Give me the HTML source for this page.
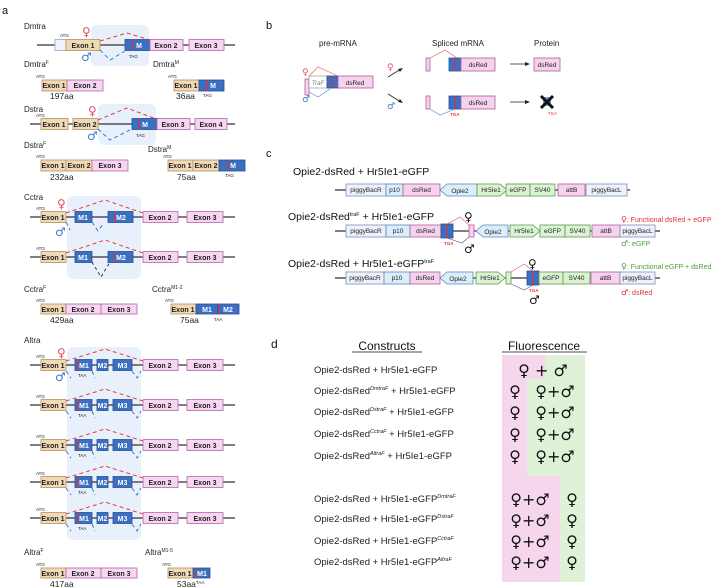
<!DOCTYPE html>
<html><head><meta charset="utf-8"><style>
html,body{margin:0;padding:0;background:#fff}
svg{display:block}
text{font-family:"Liberation Sans","DejaVu Sans",sans-serif}
.l{stroke:#333;stroke-width:1.2}
.e1{fill:#f0d9b5;stroke:#b48f63;stroke-width:.8}
.ep{fill:#f6d6f0;stroke:#b06aac;stroke-width:.8}
.ew{fill:#eef2fa;stroke:#9aa8c8;stroke-width:.8}
.m{fill:#3b6fc2;stroke:#274f94;stroke-width:.8}
.rl{stroke:#e0303a;stroke-width:1.2}
.hl{fill:#e8f1fb}
.t{font-size:7px;font-weight:bold;fill:#222;text-anchor:middle}
.tw{font-size:7px;font-weight:bold;fill:#fff;text-anchor:middle}
.s{font-size:4.5px;fill:#222}
.lab{font-size:8px;fill:#222}
.aa{font-size:8.5px;fill:#222}
.rd{stroke:#e53a3a;stroke-width:1;stroke-dasharray:4 3;fill:none}
.bd{stroke:#3a78c8;stroke-width:1;stroke-dasharray:4 3;fill:none}
.kd{stroke:#334;stroke-width:1;stroke-dasharray:3 3;fill:none}
.fe{font-size:12px;fill:#e05060}
.ma{font-size:12px;fill:#3a78c8}
.cb{fill:#eef2fa;stroke:#7a8cc0;stroke-width:.8}
.cp{fill:#dceefa;stroke:#5a86c0;stroke-width:.8}
.ck{fill:#f6d2ec;stroke:#b0609e;stroke-width:.8}
.cg{fill:#dcf2d4;stroke:#5a9a4a;stroke-width:.8}
.ct{font-size:6.5px;fill:#222;text-anchor:middle}
.ttl{font-size:10.5px;fill:#111}
.rowt{font-size:9.5px;fill:#222}
.sym{font-size:16px;fill:#111;text-anchor:middle}
.fe,.ma,.sym,.g{font-family:"DejaVu Sans",sans-serif}
</style></head><body>
<svg width="720" height="588" viewBox="0 0 720 588" xmlns="http://www.w3.org/2000/svg">
<!-- ===== Panel a ===== -->
<text x="2" y="14" font-size="11" fill="#111">a</text>

<!-- Dmtra -->
<text x="24" y="29" class="lab">Dmtra</text>
<rect x="91" y="25" width="58" height="41" rx="6" class="hl"/>
<line x1="37" y1="45" x2="235" y2="45" class="l"/>
<rect x="55" y="39.5" width="11" height="11" class="ew"/>
<rect x="66" y="39.5" width="34" height="11" class="e1"/><text x="83" y="48" class="t">Exon 1</text>
<text x="60" y="37" class="s">ATG</text>
<rect x="125" y="39.5" width="25" height="11" class="m"/><line x1="133" y1="39.5" x2="133" y2="50.5" class="rl"/><text x="139" y="48" class="tw">M</text>
<rect x="150" y="39.5" width="33" height="11" class="ep"/><text x="166" y="48" class="t">Exon 2</text>
<rect x="189" y="39.5" width="35" height="11" class="ep"/><text x="206" y="48" class="t">Exon 3</text>
<text x="129" y="58" class="s">TAG</text>
<polyline points="100,41 127,33 150,40" class="rd"/>
<polyline points="100,50 110,60 125,51" class="bd"/>
<text x="82" y="36" class="fe">♀</text><text x="81" y="61" class="ma">♂</text>

<text x="24" y="67" class="lab">Dmtra<tspan font-size="5" dy="-3">F</tspan></text>
<text x="36" y="78" class="s">ATG</text>
<rect x="42" y="80" width="25" height="11" class="e1"/><text x="54" y="88" class="t">Exon 1</text>
<rect x="67" y="80" width="36" height="11" class="ep"/><text x="85" y="88" class="t">Exon 2</text>
<text x="50" y="99" class="aa">197aa</text>
<text x="153" y="67" class="lab">Dmtra<tspan font-size="5" dy="-3">M</tspan></text>
<text x="168" y="78" class="s">ATG</text>
<rect x="174" y="80" width="25" height="11" class="e1"/><text x="186" y="88" class="t">Exon 1</text>
<rect x="199" y="80" width="25" height="11" class="m"/><line x1="207" y1="80" x2="207" y2="91" class="rl"/><text x="213" y="88" class="tw">M</text>
<text x="176" y="99" class="aa">36aa</text><text x="203" y="97" class="s">TAG</text>

<!-- Dstra -->
<text x="24" y="112" class="lab">Dstra</text>
<rect x="98" y="104" width="58" height="41" rx="6" class="hl"/>
<line x1="30" y1="124" x2="235" y2="124" class="l"/>
<text x="36" y="117" class="s">ATG</text>
<rect x="41" y="118.5" width="27" height="11" class="e1"/><text x="54" y="127" class="t">Exon 1</text>
<rect x="73" y="118.5" width="25" height="11" class="e1"/><text x="85" y="127" class="t">Exon 2</text>
<rect x="132" y="118.5" width="25" height="11" class="m"/><line x1="139" y1="118.5" x2="139" y2="129.5" class="rl"/><text x="145" y="127" class="tw">M</text>
<rect x="157" y="118.5" width="33" height="11" class="ep"/><text x="173" y="127" class="t">Exon 3</text>
<rect x="195" y="118.5" width="32" height="11" class="ep"/><text x="211" y="127" class="t">Exon 4</text>
<text x="136" y="137" class="s">TAG</text>
<polyline points="98,120 127,108 156,119" class="rd"/>
<polyline points="98,129 110,140 130,130" class="bd"/>
<text x="88" y="115" class="fe">♀</text><text x="87" y="140" class="ma">♂</text>

<text x="24" y="148" class="lab">Dstra<tspan font-size="5" dy="-3">F</tspan></text>
<text x="36" y="158" class="s">ATG</text>
<rect x="41" y="160" width="25" height="11" class="e1"/><text x="53" y="168" class="t">Exon 1</text>
<rect x="66" y="160" width="26" height="11" class="e1"/><text x="79" y="168" class="t">Exon 2</text>
<rect x="92" y="160" width="36" height="11" class="ep"/><text x="110" y="168" class="t">Exon 3</text>
<text x="50" y="180" class="aa">232aa</text>
<text x="148" y="152" class="lab">Dstra<tspan font-size="5" dy="-3">M</tspan></text>
<text x="163" y="158" class="s">ATG</text>
<rect x="168" y="160" width="25" height="11" class="e1"/><text x="180" y="168" class="t">Exon 1</text>
<rect x="193" y="160" width="26" height="11" class="e1"/><text x="206" y="168" class="t">Exon 2</text>
<rect x="219" y="160" width="26" height="11" class="m"/><line x1="228" y1="160" x2="228" y2="171" class="rl"/><text x="233" y="168" class="tw">M</text>
<text x="177" y="180" class="aa">75aa</text><text x="225" y="177" class="s">TAG</text>

<!-- Cctra -->
<text x="24" y="200" class="lab">Cctra</text>
<rect x="67" y="196" width="74" height="83" rx="6" class="hl"/>
<line x1="30" y1="217" x2="235" y2="217" class="l"/>
<text x="36" y="210" class="s">ATG</text>
<rect x="41" y="211.5" width="25" height="11" class="e1"/><text x="53" y="220" class="t">Exon 1</text>
<rect x="75" y="211.5" width="17" height="11" class="m"/><text x="83" y="220" class="tw">M1</text>
<rect x="108" y="211.5" width="25" height="11" class="m"/><line x1="115" y1="211.5" x2="115" y2="222.5" class="rl"/><text x="121" y="220" class="tw">M2</text>
<rect x="143" y="211.5" width="35" height="11" class="ep"/><text x="160" y="220" class="t">Exon 2</text>
<rect x="187" y="211.5" width="36" height="11" class="ep"/><text x="205" y="220" class="t">Exon 3</text>
<polyline points="66,213 105,200 143,213" class="rd"/>
<polyline points="66,222 70,230" class="bd"/><polyline points="92,222 98,231 104,223" class="bd"/>
<text x="57" y="208" class="fe">♀</text><text x="55" y="236" class="ma">♂</text>

<line x1="30" y1="257" x2="235" y2="257" class="l"/>
<text x="36" y="250" class="s">ATG</text>
<rect x="41" y="251.5" width="25" height="11" class="e1"/><text x="53" y="260" class="t">Exon 1</text>
<rect x="75" y="251.5" width="17" height="11" class="m"/><text x="83" y="260" class="tw">M1</text>
<rect x="108" y="251.5" width="25" height="11" class="m"/><line x1="115" y1="251.5" x2="115" y2="262.5" class="rl"/><text x="121" y="260" class="tw">M2</text>
<rect x="143" y="251.5" width="35" height="11" class="ep"/><text x="160" y="260" class="t">Exon 2</text>
<rect x="187" y="251.5" width="36" height="11" class="ep"/><text x="205" y="260" class="t">Exon 3</text>
<polyline points="66,253 105,240 143,253" class="rd"/>
<polyline points="92,262 101,277 110,262" class="kd"/>

<text x="24" y="292" class="lab">Cctra<tspan font-size="5" dy="-3">F</tspan></text>
<text x="36" y="302" class="s">ATG</text>
<rect x="41" y="304" width="25" height="10" class="e1"/><text x="53" y="312" class="t">Exon 1</text>
<rect x="66" y="304" width="35" height="10" class="ep"/><text x="83" y="312" class="t">Exon 2</text>
<rect x="101" y="304" width="36" height="10" class="ep"/><text x="119" y="312" class="t">Exon 3</text>
<text x="50" y="323" class="aa">429aa</text>
<text x="152" y="292" class="lab">Cctra<tspan font-size="5" dy="-3">M1-2</tspan></text>
<text x="165" y="302" class="s">ATG</text>
<rect x="171" y="304" width="25" height="10" class="e1"/><text x="183" y="312" class="t">Exon 1</text>
<rect x="196" y="304" width="22" height="10" class="m"/><text x="207" y="312" class="tw">M1</text>
<rect x="218" y="304" width="21" height="10" class="m"/><line x1="219" y1="304" x2="219" y2="314" class="rl"/><text x="228" y="312" class="tw">M2</text>
<text x="180" y="323" class="aa">75aa</text><text x="214" y="321" class="s">TAA</text>

<!-- Altra -->
<text x="24" y="343" class="lab">Altra</text>
<rect x="67" y="347" width="74" height="193" rx="6" class="hl"/>
<g id="ar">
<line x1="30" y1="365" x2="235" y2="365" class="l"/>
<text x="36" y="358" class="s">ATG</text>
<rect x="41" y="359.5" width="25" height="11" class="e1"/><text x="53" y="368" class="t">Exon 1</text>
<rect x="75" y="359.5" width="17" height="11" class="m"/><line x1="78" y1="359.5" x2="78" y2="370.5" class="rl"/><text x="84" y="368" class="tw">M1</text>
<rect x="97" y="359.5" width="11" height="11" class="m"/><text x="102.5" y="368" class="tw">M2</text>
<rect x="113" y="359.5" width="19" height="11" class="m"/><text x="122.5" y="368" class="tw">M3</text>
<rect x="143" y="359.5" width="35" height="11" class="ep"/><text x="160" y="368" class="t">Exon 2</text>
<rect x="187" y="359.5" width="36" height="11" class="ep"/><text x="205" y="368" class="t">Exon 3</text>
<text x="78" y="377" class="s">TAA</text>
<polyline points="66,361 105,349 143,361" class="rd"/>
<polyline points="66,371 71,378" class="bd"/><polyline points="92,371 95,378" class="bd"/><polyline points="132,371 137,378 141,371" class="bd"/>
</g>
<text x="57" y="357" class="fe">♀</text><text x="55" y="381" class="ma">♂</text>
<use href="#ar" y="40"/>
<use href="#ar" y="80"/>
<use href="#ar" y="117"/>
<use href="#ar" y="153"/>

<text x="24" y="555" class="lab">Altra<tspan font-size="5" dy="-3">F</tspan></text>
<text x="36" y="566" class="s">ATG</text>
<rect x="41" y="568" width="25" height="10" class="e1"/><text x="53" y="576" class="t">Exon 1</text>
<rect x="66" y="568" width="35" height="10" class="ep"/><text x="83" y="576" class="t">Exon 2</text>
<rect x="101" y="568" width="36" height="10" class="ep"/><text x="119" y="576" class="t">Exon 3</text>
<text x="50" y="587" class="aa">417aa</text>
<text x="145" y="555" class="lab">Altra<tspan font-size="5" dy="-3">M1-5</tspan></text>
<text x="162" y="566" class="s">ATG</text>
<rect x="168" y="568" width="25" height="10" class="e1"/><text x="180" y="576" class="t">Exon 1</text>
<rect x="193" y="568" width="17" height="10" class="m"/><line x1="196" y1="568" x2="196" y2="578" class="rl"/><text x="202" y="576" class="tw">M1</text>
<text x="177" y="587" class="aa">53aa</text><text x="196" y="584" class="s">TAA</text>

<!-- ===== Panel b ===== -->
<text x="266" y="29" font-size="11" fill="#111">b</text>
<text x="319" y="46" class="lab" font-size="7.5">pre-mRNA</text>
<text x="432" y="46" class="lab" font-size="7.5">Spliced mRNA</text>
<text x="534" y="46" class="lab" font-size="7.5">Protein</text>
<rect x="305" y="79" width="4" height="16" class="ck"/>
<rect x="309" y="76" width="18" height="12" fill="#fff" stroke="#888" stroke-width=".6"/><text x="318" y="85" font-size="6" font-style="italic" fill="#777" text-anchor="middle">TraF</text>
<rect x="327" y="76" width="11" height="12" class="m"/><line x1="332" y1="76" x2="332" y2="88" class="rl"/>
<rect x="338" y="76" width="35" height="12" class="ck"/><text x="355" y="85" class="ct" font-size="6.5">dsRed</text>
<polyline points="309,76 318,67 338,76" fill="none" stroke="#e55" stroke-width=".6"/>
<polyline points="309,92 318,97 330,89" fill="none" stroke="#58c" stroke-width=".6"/>
<text x="302" y="75" font-size="9" fill="#e05060" class="g">♀</text><text x="302" y="102" font-size="9" fill="#3a78c8" class="g">♂</text>
<text x="387" y="70" font-size="9" fill="#e05060" class="g">♀</text><line x1="388" y1="77" x2="401" y2="69" stroke="#222" stroke-width=".8"/><polygon points="403,68 398,69 400,72" fill="#222"/>
<text x="387" y="109" font-size="9" fill="#3a78c8" class="g">♂</text><line x1="388" y1="94" x2="401" y2="102" stroke="#222" stroke-width=".8"/><polygon points="403,103 398,102 400,99" fill="#222"/>
<rect x="426" y="58" width="4" height="13" class="ck"/>
<rect x="449" y="58" width="12" height="13" class="m"/><line x1="455" y1="58" x2="455" y2="71" class="rl"/>
<rect x="461" y="58" width="34" height="13" class="ck"/><text x="478" y="67" class="ct">dsRed</text>
<polyline points="430,58 445,50 457,58" fill="none" stroke="#e55" stroke-width=".6"/>
<line x1="510" y1="64" x2="527" y2="64" stroke="#222" stroke-width=".8"/><polygon points="530,64 525,62 525,66" fill="#222"/>
<rect x="534" y="58" width="26" height="13" class="ck"/><text x="547" y="67" class="ct">dsRed</text>
<rect x="426" y="96" width="4" height="13" class="ck"/>
<rect x="449" y="96" width="12" height="13" class="m"/><line x1="455" y1="96" x2="455" y2="109" class="rl"/>
<rect x="461" y="96" width="34" height="13" class="ck"/><text x="478" y="105" class="ct">dsRed</text>
<polyline points="430,109 440,115 455,109" fill="none" stroke="#58c" stroke-width=".6"/>
<text x="450" y="116" font-size="4.5" fill="#e33" font-weight="bold">TGA</text>
<line x1="510" y1="102" x2="527" y2="102" stroke="#222" stroke-width=".8"/><polygon points="530,102 525,100 525,104" fill="#222"/>
<rect x="543" y="97" width="8" height="9" fill="#7aa0d0"/>
<path d="M541,96 L553,108 M553,96 L541,108" stroke="#111" stroke-width="3"/>
<text x="548" y="115" font-size="4.5" fill="#e33">TGA</text>

<!-- ===== Panel c ===== -->
<text x="266" y="157" font-size="11" fill="#111">c</text>
<text x="293" y="175" class="ttl">Opie2-dsRed + Hr5Ie1-eGFP</text>
<line x1="335" y1="190" x2="630" y2="190" class="l"/>
<rect x="346" y="184" width="40" height="12" class="cb"/><text x="366" y="192" class="ct">piggyBacR</text>
<rect x="386" y="184" width="17" height="12" class="cp"/><text x="394.5" y="192" class="ct">p10</text>
<rect x="403" y="184" width="37" height="12" class="ck"/><text x="421.5" y="192" class="ct">dsRed</text>
<polygon points="440,190 447,184 477,184 477,196 447,196" class="cp"/><text x="460" y="193" class="ct" font-size="8">Opie2</text>
<polygon points="477,184 500,184 507,190 500,196 477,196" class="cg"/><text x="491" y="192" class="ct">Hr5Ie1</text>
<rect x="506" y="184" width="24" height="12" class="cg"/><text x="518" y="192" class="ct">eGFP</text>
<rect x="530" y="184" width="25" height="12" class="cg"/><text x="542.5" y="192" class="ct">SV40</text>
<rect x="558" y="184" width="27" height="12" class="ck"/><text x="571.5" y="192" class="ct">attB</text>
<rect x="586" y="184" width="41" height="12" class="cb"/><text x="606.5" y="192" class="ct">piggyBacL</text>

<text x="288" y="220" class="ttl">Opie2-dsRed<tspan font-size="5.5" dy="-4">traF</tspan><tspan dy="4"> + Hr5Ie1-eGFP</tspan></text>
<line x1="335" y1="231" x2="660" y2="231" class="l"/>
<rect x="346" y="225" width="40" height="12" class="cb"/><text x="366" y="233" class="ct">piggyBacR</text>
<rect x="386" y="225" width="24" height="12" class="cp"/><text x="398" y="233" class="ct">p10</text>
<rect x="410" y="225" width="31" height="12" class="ck"/><text x="425.5" y="233" class="ct">dsRed</text>
<rect x="441" y="224" width="12" height="14" class="m"/><line x1="447" y1="224" x2="447" y2="238" class="rl"/>
<rect x="469" y="225" width="5" height="12" class="ck"/>
<polyline points="447,224 460,217 469,225" fill="none" stroke="#e55" stroke-width=".6"/>
<polyline points="447,238 462,243 469,237" fill="none" stroke="#557" stroke-width=".6"/>
<text x="444" y="245" font-size="4.5" fill="#e33" font-weight="bold">TGA</text>
<text x="464" y="221" font-size="12" fill="#111" class="g">♀</text><text x="464" y="253" font-size="12" fill="#111" class="g">♂</text>
<polygon points="476,231 483,225 508,225 508,237 483,237" class="cp"/><text x="493" y="234" class="ct" font-size="8">Opie2</text>
<polygon points="510,225 533,225 540,231 533,237 510,237" class="cg"/><text x="524" y="233" class="ct">Hr5Ie1</text>
<rect x="540" y="225" width="25" height="12" class="cg"/><text x="552.5" y="233" class="ct">eGFP</text>
<rect x="565" y="225" width="25" height="12" class="cg"/><text x="577.5" y="233" class="ct">SV40</text>
<rect x="592" y="225" width="28" height="12" class="ck"/><text x="606" y="233" class="ct">attB</text>
<rect x="620" y="225" width="35" height="12" class="cb"/><text x="637.5" y="233" class="ct">piggyBacL</text>
<text x="621" y="222" font-size="7" fill="#e03030"><tspan class="g" font-size="8">♀</tspan>: Functional dsRed + eGFP</text>
<text x="621" y="246" font-size="7" fill="#4aa03a"><tspan class="g" font-size="8">♂</tspan>: eGFP</text>

<text x="288" y="267" class="ttl">Opie2-dsRed + Hr5Ie1-eGFP<tspan font-size="5.5" dy="-4">traF</tspan></text>
<line x1="335" y1="278" x2="660" y2="278" class="l"/>
<rect x="346" y="272" width="38" height="12" class="cb"/><text x="365" y="280" class="ct">piggyBacR</text>
<rect x="384" y="272" width="26" height="12" class="cp"/><text x="397" y="280" class="ct">p10</text>
<rect x="410" y="272" width="30" height="12" class="ck"/><text x="425" y="280" class="ct">dsRed</text>
<polygon points="440,278 447,272 473,272 473,284 447,284" class="cp"/><text x="458" y="281" class="ct" font-size="8">Opie2</text>
<polygon points="476,272 498,272 505,278 498,284 476,284" class="cg"/><text x="490" y="280" class="ct">Hr5Ie1</text>
<rect x="506" y="272" width="5" height="12" class="cg"/>
<rect x="527" y="271" width="12" height="14" class="m"/><line x1="533" y1="271" x2="533" y2="285" class="rl"/>
<polyline points="511,272 524,264 533,271" fill="none" stroke="#e55" stroke-width=".6"/>
<polyline points="511,284 524,290 533,285" fill="none" stroke="#557" stroke-width=".6"/>
<text x="529" y="292" font-size="4.5" fill="#e33" font-weight="bold">TGA</text>
<text x="528" y="268" font-size="12" fill="#111" class="g">♀</text><text x="529" y="304" font-size="12" fill="#111" class="g">♂</text>
<rect x="539" y="272" width="24" height="12" class="cg"/><text x="551" y="280" class="ct">eGFP</text>
<rect x="563" y="272" width="27" height="12" class="cg"/><text x="576.5" y="280" class="ct">SV40</text>
<rect x="591" y="272" width="29" height="12" class="ck"/><text x="605.5" y="280" class="ct">attB</text>
<rect x="620" y="272" width="35" height="12" class="cb"/><text x="637.5" y="280" class="ct">piggyBacL</text>
<text x="621" y="269" font-size="7" fill="#4aa03a"><tspan class="g" font-size="8">♀</tspan>: Functional eGFP + dsRed</text>
<text x="621" y="295" font-size="7" fill="#e03030"><tspan class="g" font-size="8">♂</tspan>: dsRed</text>

<!-- ===== Panel d ===== -->
<text x="271" y="348" font-size="12" fill="#111">d</text>
<text x="387" y="350" font-size="12" fill="#111" text-anchor="middle">Constructs</text>
<line x1="352" y1="352" x2="422" y2="352" stroke="#111" stroke-width=".8"/>
<text x="544" y="350" font-size="12" fill="#111" text-anchor="middle">Fluorescence</text>
<line x1="502" y1="352" x2="587" y2="352" stroke="#111" stroke-width=".8"/>
<rect x="502" y="355" width="83" height="227" fill="#dff2d8"/>
<path d="M502,355 H545 V379 H527 V476 H560 V582 H502 Z" fill="#f6d6ec"/>
<text x="314" y="373" class="rowt">Opie2-dsRed + Hr5Ie1-eGFP</text>
<text x="314" y="394" class="rowt">Opie2-dsRed<tspan font-size="5.5" font-style="italic" dy="-4">DmtraF</tspan><tspan dy="4"> + Hr5Ie1-eGFP</tspan></text>
<text x="314" y="415" class="rowt">Opie2-dsRed<tspan font-size="5.5" font-style="italic" dy="-4">DstraF</tspan><tspan dy="4"> + Hr5Ie1-eGFP</tspan></text>
<text x="314" y="437" class="rowt">Opie2-dsRed<tspan font-size="5.5" font-style="italic" dy="-4">CctraF</tspan><tspan dy="4"> + Hr5Ie1-eGFP</tspan></text>
<text x="314" y="459" class="rowt">Opie2-dsRed<tspan font-size="5.5" font-style="italic" dy="-4">AltraF</tspan><tspan dy="4"> + Hr5Ie1-eGFP</tspan></text>
<text x="314" y="502" class="rowt">Opie2-dsRed + Hr5Ie1-eGFP<tspan font-size="5.5" font-style="italic" dy="-4">DmtraF</tspan></text>
<text x="314" y="522" class="rowt">Opie2-dsRed + Hr5Ie1-eGFP<tspan font-size="5.5" font-style="italic" dy="-4">DstraF</tspan></text>
<text x="314" y="544" class="rowt">Opie2-dsRed + Hr5Ie1-eGFP<tspan font-size="5.5" font-style="italic" dy="-4">CctraF</tspan></text>
<text x="314" y="565" class="rowt">Opie2-dsRed + Hr5Ie1-eGFP<tspan font-size="5.5" font-style="italic" dy="-4">AltraF</tspan></text>
<text x="543" y="376" class="sym" font-size="15">♀ + ♂</text>
<text x="515" y="397" class="sym">♀</text><text x="555" y="397" class="sym">♀+♂</text>
<text x="515" y="418" class="sym">♀</text><text x="555" y="418" class="sym">♀+♂</text>
<text x="515" y="440" class="sym">♀</text><text x="555" y="440" class="sym">♀+♂</text>
<text x="515" y="462" class="sym">♀</text><text x="555" y="462" class="sym">♀+♂</text>
<text x="530" y="505" class="sym">♀+♂</text><text x="572" y="505" class="sym">♀</text>
<text x="530" y="526" class="sym">♀+♂</text><text x="572" y="526" class="sym">♀</text>
<text x="530" y="547" class="sym">♀+♂</text><text x="572" y="547" class="sym">♀</text>
<text x="530" y="568" class="sym">♀+♂</text><text x="572" y="568" class="sym">♀</text>
</svg>
</body></html>
